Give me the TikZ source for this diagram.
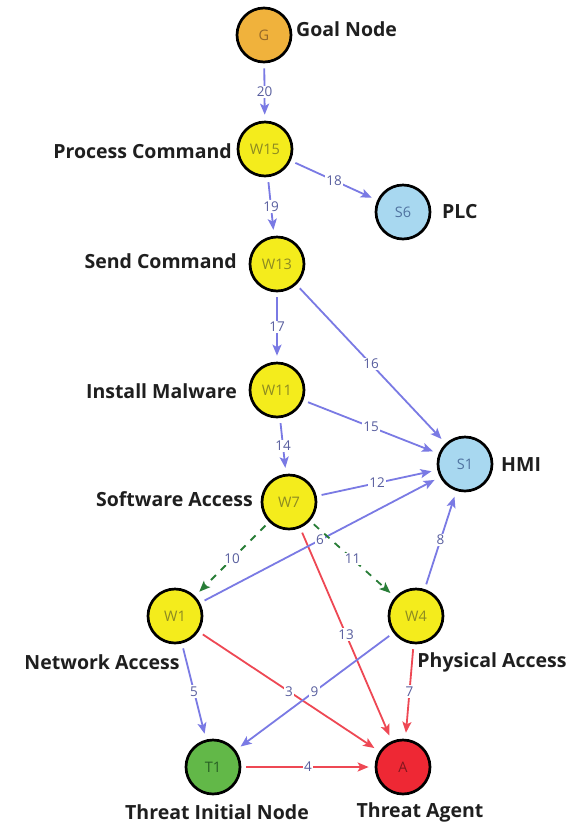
\documentclass[tikz,border=0pt]{standalone}
\usepackage{fontspec}
\setmainfont{Open Sans}
\usetikzlibrary{arrows.meta}

\definecolor{goalfill}{RGB}{240,178,60}
\definecolor{stepfill}{RGB}{244,236,28}
\definecolor{assetfill}{RGB}{168,216,240}
\definecolor{initfill}{RGB}{98,184,72}
\definecolor{agentfill}{RGB}{238,40,52}
\definecolor{bluearc}{RGB}{122,122,228}
\definecolor{redarc}{RGB}{238,72,84}
\definecolor{greenarc}{RGB}{40,125,55}
\definecolor{weightc}{RGB}{88,94,158}

\begin{document}
\begin{tikzpicture}[x=1pt,y=-1pt,
  vertex/.style={circle, draw=black, line width=2.7pt, minimum size=54pt,
    inner sep=0pt, font=\fontsize{14.5}{14.5}\selectfont},
  goalv/.style={vertex, fill=goalfill, text={rgb,255:red,150;green,105;blue,40}},
  stepv/.style={vertex, fill=stepfill, text={rgb,255:red,140;green,138;blue,34}},
  assetv/.style={vertex, fill=assetfill, text={rgb,255:red,80;green,115;blue,160}},
  initv/.style={vertex, fill=initfill, text={rgb,255:red,40;green,95;blue,36}},
  agentv/.style={vertex, fill=agentfill, text={rgb,255:red,130;green,22;blue,30}},
  tag/.style={font=\fontsize{19.5}{19.5}\selectfont\bfseries, text=black!88, inner sep=0pt},
  wt/.style={fill=white, inner sep=1.2pt, text=weightc, font=\fontsize{13.5}{13.5}\selectfont},
  arc/.style={line width=1.8pt, shorten <=5pt, shorten >=6pt,
    -{Stealth[length=11pt,width=9pt,inset=2.5pt]}},
  barc/.style={arc, draw=bluearc},
  rarc/.style={arc, draw=redarc},
  garc/.style={arc, draw=greenarc, dash pattern=on 7pt off 7pt},
]
\useasboundingbox[fill=white] (0,0) rectangle (577,823);

% attack graph vertices
\node[goalv]  (G)   at (264,35)  {G};
\node[stepv]  (W15) at (265,149) {W15};
\node[assetv] (S6)  at (403,212) {S6};
\node[stepv]  (W13) at (277,264) {W13};
\node[stepv]  (W11) at (277,390) {W11};
\node[assetv] (S1)  at (465,464) {S1};
\node[stepv]  (W7)  at (289,502) {W7};
\node[stepv]  (W1)  at (175,616) {W1};
\node[stepv]  (W4)  at (416,616) {W4};
\node[initv]  (T1)  at (213,767) {T1};
\node[agentv] (A)   at (403,767) {A};

% vertex captions
\node[tag, anchor=west] (lG)   at (296,29)  {Goal Node};
\node[tag, anchor=east] (lW15) at (232,151) {Process Command};
\node[tag, anchor=west] (lS6)  at (442,212) {PLC};
\node[tag, anchor=east] (lW13) at (237,261) {Send Command};
\node[tag, anchor=east] (lW11) at (237,391) {Install Malware};
\node[tag, anchor=east] (lW7)  at (253,499) {Software Access};
\node[tag, anchor=west] (lS1)  at (501,465) {HMI};
\node[tag]              (lW1)  at (102,662) {Network Access};
\node[tag]              (lW4)  at (492,662) {Physical Access};
\node[tag]              (lT1)  at (217,812) {Threat Initial Node};
\node[tag]              (lA)   at (420,812) {Threat Agent};

% weighted arcs
\draw[barc] (G)   -- node[wt]{20} (W15);
\draw[barc] (W15) -- node[wt]{18} (S6);
\draw[barc] (W15) -- node[wt]{19} (W13);
\draw[barc] (W13) -- node[wt]{17} (W11);
\draw[barc] (W13) -- node[wt]{16} (S1);
\draw[barc] (W11) -- node[wt]{15} (S1);
\draw[barc] (W11) -- node[wt]{14} (W7);
\draw[barc] (W7)  -- node[wt]{12} (S1);
\draw[rarc] (W7)  -- node[wt]{13} (A);
\draw[barc] (W1)  -- node[wt]{6}  (S1);
\draw[garc] (W7)  -- node[wt]{10} (W1);
\draw[garc] (W7)  -- node[wt]{11} (W4);
\draw[barc] (W4)  -- node[wt]{8}  (S1);
\draw[barc] (W1)  -- node[wt]{5}  (T1);
\draw[rarc] (W1)  -- node[wt]{3}  (A);
\draw[barc] (W4)  -- node[wt]{9}  (T1);
\draw[rarc] (W4)  -- node[wt]{7}  (A);
\draw[rarc] (T1)  -- node[wt]{4}  (A);
\end{tikzpicture}
\end{document}
